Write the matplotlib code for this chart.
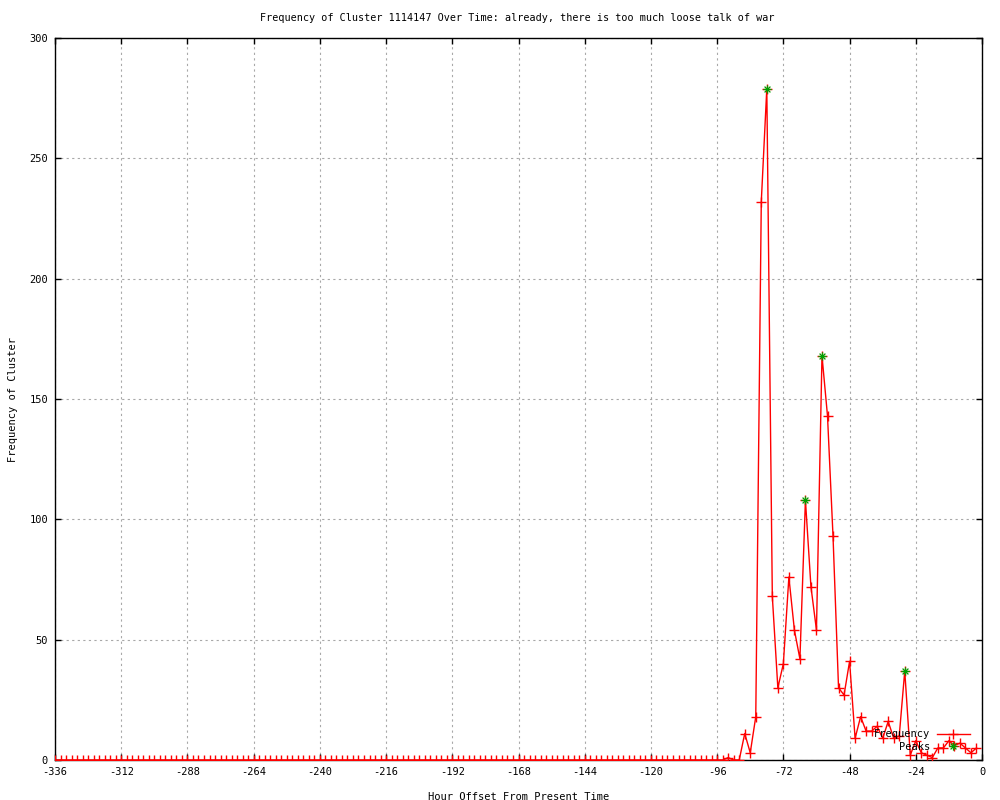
import numpy as np
import matplotlib
matplotlib.use("Agg")
import matplotlib.pyplot as plt
from matplotlib.path import Path
from matplotlib.lines import Line2D

# hours offset, one sample every 2 hours
hours = np.arange(-336, 0, 2)

# counts from -92h to -2h (everything before is zero)
recent_hours = [-92, -90, -88, -86, -84, -82, -80, -78, -76, -74, -72, -70,
                -68, -66, -64, -62, -60, -58, -56, -54, -52, -50, -48, -46,
                -44, -42, -40, -38, -36, -34, -32, -30, -28, -26, -24, -22,
                -20, -18, -16, -14, -12, -10, -8, -6, -4, -2]
recent_freq = [1, 0, 0, 11, 3, 18, 232, 279, 68, 30, 40, 76,
               54, 42, 108, 72, 54, 168, 143, 93, 30, 27, 41, 9,
               18, 12, 12, 14, 9, 16, 9, 10, 37, 2, 8, 3,
               2, 1, 5, 5, 8, 6, 7, 5, 3, 5]

peak_hours = [-78, -64, -58, -28]
peak_freq = [279, 108, 168, 37]

title = "Frequency of Cluster 1114147 Over Time: already, there is too much loose talk of war"

freq = np.zeros(len(hours))
for h, v in zip(recent_hours, recent_freq):
    freq[hours == h] = v

plt.rcParams["font.family"] = ["DejaVu Sans Mono"]
plt.rcParams["axes.unicode_minus"] = False
fs = 7.5

# gnuplot style asterisk: plus and cross together
star = Path(
    [(-1, 0), (1, 0), (0, -1), (0, 1), (-0.7, -0.7), (0.7, 0.7), (-0.7, 0.7), (0.7, -0.7)],
    [Path.MOVETO, Path.LINETO] * 4,
)

fig = plt.figure(figsize=(10, 8), dpi=100)
ax = fig.add_axes([0.055, 0.05, 0.927, 0.9025])

ax.plot(hours, freq, color="red", linewidth=1.0, marker="+", markersize=7,
        markeredgewidth=1.0, zorder=3)
ax.plot(peak_hours, peak_freq, linestyle="none", marker=star, markersize=6,
        markeredgecolor="#00a000", markerfacecolor="none", markeredgewidth=0.9,
        zorder=4)

ax.set_xlim(-336, 0)
ax.set_ylim(0, 300)
ax.set_xticks(np.arange(-336, 1, 24))
ax.set_yticks(np.arange(0, 301, 50))
ax.tick_params(direction="in", length=4.5, width=1, top=True, right=True,
               labelsize=fs, pad=5)
ax.grid(True, color="#a8a8a8", linestyle=(0, (2, 3)), linewidth=0.8)
for s in ax.spines.values():
    s.set_linewidth(1.0)

ax.set_xlabel("Hour Offset From Present Time", fontsize=fs)
ax.set_ylabel("Frequency of Cluster", fontsize=fs)
ax.xaxis.set_label_coords(0.5, -0.044)
ax.yaxis.set_label_coords(-0.040, 0.5)
fig.text(0.5175, 1 - 18 / 800, title, ha="center", va="center", fontsize=7.3)

handles = [
    Line2D([], [], color="red", linewidth=1.0, marker="+", markersize=7),
    Line2D([], [], linestyle="none", marker=star, markersize=6,
           markeredgecolor="#00a000", markerfacecolor="none", markeredgewidth=0.9),
]
ax.legend(handles, ["Frequency", "Peaks"], markerfirst=False, frameon=False,
          loc="lower right", bbox_to_anchor=(0.970, 0.06),
          bbox_transform=fig.transFigure, fontsize=fs, handlelength=3.2,
          handletextpad=0.6, labelspacing=0.25, borderpad=0, borderaxespad=0)

fig.savefig("out.png", dpi=100)
